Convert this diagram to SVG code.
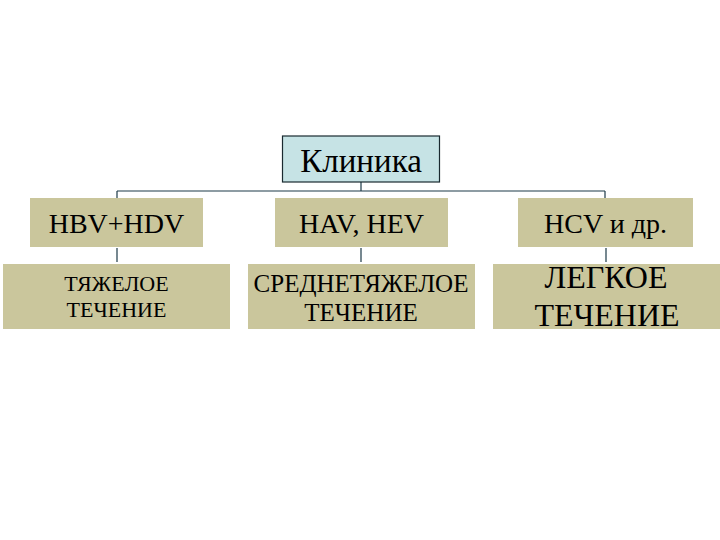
<svg xmlns="http://www.w3.org/2000/svg" width="720" height="540" viewBox="0 0 720 540">
<style>
.box{fill:#cac69c;stroke:none}
.top{fill:#c6e3e5;stroke:#1a2a30;stroke-width:1.2}
.t{font-family:'Liberation Serif','Times New Roman',serif;fill:#000;text-anchor:middle}
.conn{stroke:#1d3a48;stroke-width:1.2;fill:none}
</style>
<rect width="720" height="540" fill="#fff"/>
<g id="connectors">
<path class="conn" d="M361 182V191M117 191H605M117 191V198M605 191V198"/>
<path class="conn" d="M117 248V262M361 248V262M606 248V262"/>
</g>
<g id="klinika">
<rect class="top" x="282.5" y="136" width="157" height="46"/>
<text class="t" x="361" y="172" font-size="33">Клиника</text>
</g>
<g id="hbv">
<rect class="box" x="30" y="198" width="173" height="49"/>
<text class="t" x="116.5" y="233" font-size="28">HBV+HDV</text>
</g>
<g id="hav">
<rect class="box" x="275" y="198" width="173" height="49"/>
<text class="t" x="361.5" y="233" font-size="28">HAV, HEV</text>
</g>
<g id="hcv">
<rect class="box" x="518" y="198" width="175" height="49"/>
<text class="t" x="605.5" y="233" font-size="28">HCV и др.</text>
</g>
<g id="severe">
<rect class="box" x="3" y="264" width="227" height="65"/>
<text class="t" x="116.5" y="291" font-size="22">ТЯЖЕЛОЕ</text>
<text class="t" x="116.5" y="317" font-size="22">ТЕЧЕНИЕ</text>
</g>
<g id="moderate">
<rect class="box" x="248" y="264" width="227" height="65"/>
<text class="t" x="361" y="291.5" font-size="25">СРЕДНЕТЯЖЕЛОЕ</text>
<text class="t" x="361" y="320.5" font-size="25">ТЕЧЕНИЕ</text>
</g>
<g id="mild">
<rect class="box" x="493" y="264" width="227" height="65"/>
<text class="t" x="606" y="288" font-size="32">ЛЕГКОЕ</text>
<text class="t" x="607" y="326" font-size="32">ТЕЧЕНИЕ</text>
</g>
</svg>
